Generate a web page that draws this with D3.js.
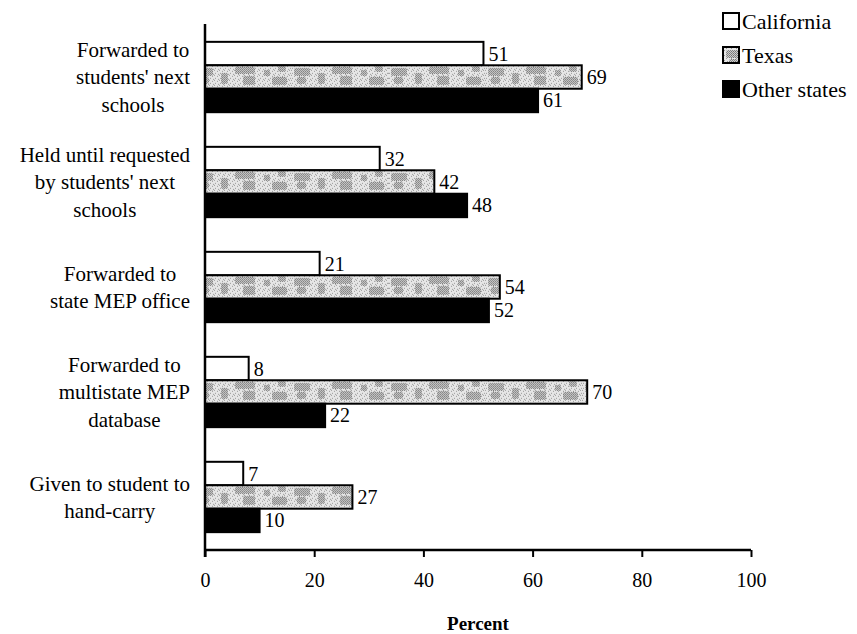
<!DOCTYPE html>
<html>
<head>
<meta charset="utf-8">
<script src="https://cdn.jsdelivr.net/npm/d3@7"></script>
<style>
  html, body { margin: 0; padding: 0; background: #fff; }
  svg { display: block; font-family: "Liberation Serif", "Times New Roman", serif; }
</style>
</head>
<body>
<svg id="chart" width="857" height="634"></svg>
<script>
// Where migrant student records go, by state group (percent)
const categories = [
  ["Forwarded to", "students' next", "schools"],
  ["Held until requested", "by students' next", "schools"],
  ["Forwarded to", "state MEP office"],
  ["Forwarded to", "multistate MEP", "database"],
  ["Given to student to", "hand-carry"]
];
const seriesNames = ["California", "Texas", "Other states"];
const california = [51, 32, 21, 8, 7];
const texas = [69, 42, 54, 70, 27];
const otherStates = [61, 48, 52, 22, 10];
const xTicks = [0, 20, 40, 60, 80, 100];

const seriesValues = [california, texas, otherStates];
const svg = d3.select("#chart");

// Mottled grey stipple for Texas: a light dotted ground with darker dense patches
const defs = svg.append("defs");
const fine = defs.append("pattern")
  .attr("id", "fine").attr("patternUnits", "userSpaceOnUse")
  .attr("width", 5).attr("height", 5);
fine.append("rect").attr("width", 5).attr("height", 5).attr("fill", "#e6e6e6");
[[0,0],[3,1],[1,3],[4,4]].forEach(([px, py]) =>
  fine.append("rect").attr("x", px).attr("y", py).attr("width", 1).attr("height", 1).attr("fill", "#9a9a9a"));

const dense = defs.append("pattern")
  .attr("id", "dense").attr("patternUnits", "userSpaceOnUse")
  .attr("width", 2).attr("height", 2);
dense.append("rect").attr("width", 2).attr("height", 2).attr("fill", "#cfcfcf");
dense.append("rect").attr("width", 1).attr("height", 1).attr("fill", "#777");
dense.append("rect").attr("x", 1).attr("y", 1).attr("width", 1).attr("height", 1).attr("fill", "#888");

const tile = defs.append("pattern")
  .attr("id", "stipple").attr("patternUnits", "userSpaceOnUse")
  .attr("width", 97).attr("height", 23);
tile.append("rect").attr("width", 97).attr("height", 23).attr("fill", "url(#fine)");
[[3,3,16,8],[6,12,9,7],[27,8,7,11],[41,2,20,7],[49,11,12,9],[70,5,6,6],[78,12,15,8],[84,1,8,6]].forEach(([px, py, w, h]) =>
  tile.append("rect").attr("x", px).attr("y", py).attr("width", w).attr("height", h)
    .attr("rx", 2).attr("fill", "url(#dense)"));

const fills = ["#ffffff", "url(#stipple)", "#000000"];

const plotTop = 24, plotBottom = 550;
const x = d3.scaleLinear().domain([0, 100]).range([205, 751]);
const y = d3.scaleBand().domain(d3.range(categories.length))
  .range([plotTop, plotBottom]).paddingInner(0.33).paddingOuter(0.17);
const ySub = d3.scaleBand().domain(d3.range(seriesNames.length)).range([0, y.bandwidth()]);

// Bars with value labels
const groups = svg.append("g").selectAll("g")
  .data(categories).join("g")
  .attr("transform", (d, i) => `translate(0,${y(i)})`);

groups.each(function (d, i) {
  const g = d3.select(this);
  seriesValues.forEach((vals, s) => {
    g.append("rect")
      .attr("x", x(0))
      .attr("y", ySub(s))
      .attr("width", x(vals[i]) - x(0))
      .attr("height", ySub.bandwidth())
      .attr("fill", fills[s])
      .attr("stroke", "#000")
      .attr("stroke-width", 2);
    g.append("text")
      .attr("x", x(vals[i]) + 5)
      .attr("y", ySub(s) + ySub.bandwidth() / 2)
      .attr("dy", "0.35em")
      .attr("font-size", 20)
      .text(vals[i]);
  });
});

// Category labels: each block centred, with its widest line ending near the axis
const lineH = 27.5;
const labelRight = 190;
svg.append("g").selectAll("text")
  .data(categories).join("text")
  .attr("text-anchor", "middle")
  .attr("font-size", 21)
  .each(function (lines, i) {
    const cy = y(i) + y.bandwidth() / 2;
    const t = d3.select(this);
    lines.forEach((ln, k) => {
      t.append("tspan")
        .attr("y", cy + (k - (lines.length - 1) / 2) * lineH)
        .attr("dy", "0.35em")
        .text(ln);
    });
    let maxW = 0;
    t.selectAll("tspan").each(function () { maxW = Math.max(maxW, this.getComputedTextLength()); });
    t.selectAll("tspan").attr("x", labelRight - maxW / 2);
  });

// Axes
const xAxis = d3.axisBottom(x).tickValues(xTicks).tickSize(7).tickPadding(16);
const gx = svg.append("g").attr("transform", `translate(0,${plotBottom})`).call(xAxis);
gx.select(".domain").attr("stroke", "#000").attr("stroke-width", 2.5)
  .attr("d", `M${x(0)},0H${x(100)}`);
gx.selectAll(".tick line").attr("stroke", "#000").attr("stroke-width", 2);
gx.selectAll(".tick text").attr("font-family", "Liberation Serif, serif").attr("font-size", 20).attr("fill", "#000");

svg.append("line")
  .attr("x1", x(0)).attr("x2", x(0))
  .attr("y1", plotTop).attr("y2", plotBottom + 7)
  .attr("stroke", "#000").attr("stroke-width", 2.5);

svg.append("text")
  .attr("x", (x(0) + x(100)) / 2)
  .attr("y", 630)
  .attr("text-anchor", "middle")
  .attr("font-size", 19)
  .attr("font-weight", "bold")
  .text("Percent");

// Legend
const legend = svg.append("g").attr("transform", "translate(723,13)");
seriesNames.forEach((name, s) => {
  const row = legend.append("g").attr("transform", `translate(0,${s * 34})`);
  row.append("rect").attr("x", 0).attr("y", 0).attr("width", 16).attr("height", 16)
    .attr("fill", fills[s]).attr("stroke", "#000").attr("stroke-width", 2);
  row.append("text").attr("x", 19).attr("y", 8).attr("dy", "0.35em")
    .attr("font-size", 22).text(name);
});
</script>
</body>
</html>
